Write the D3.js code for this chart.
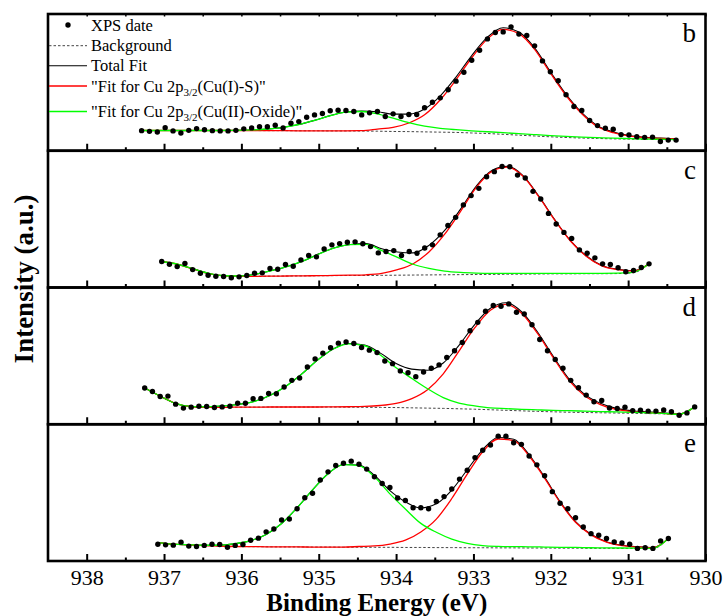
<!DOCTYPE html>
<html>
<head>
<meta charset="utf-8">
<script src="https://cdn.jsdelivr.net/npm/d3@7"></script>
<style>
  body { margin: 0; background: #fff; }
  svg { display: block; font-family: "Liberation Serif", "Times New Roman", serif; }
</style>
</head>
<body>
<div id="chart"></div>
<script>
// axis values
var energyTicks = [938, 937, 936, 935, 934, 933, 932, 931, 930];
var minorTicks  = [937.5, 936.5, 935.5, 934.5, 933.5, 932.5, 931.5, 930.5];
var panelNames  = ["b", "c", "d", "e"];

// intensities are in arbitrary units, 0-100 of the panel height
// panel b
var bRange = [937.29, 930.38];
var bPoints = [14.7,14.2,13.7,16.9,14.5,13.0,14.9,16.2,15.4,14.7,14.5,14.5,14.9,16.0,16.7,17.6,17.6,18.6,16.7,20.1,21.3,24.5,26.2,27.2,29.2,29.6,29.4,28.7,26.2,27.7,28.7,25.0,27.0,25.0,26.5,26.5,31.4,35.5,38.7,44.6,50.9,57.4,66.2,73.5,81.8,86.5,86.9,90.6,85.3,84.3,76.7,65.7,57.8,51.2,40.9,32.4,29.4,22.1,18.4,16.4,15.7,11.8,11.5,10.3,9.8,10.0,6.8,7.8,7.8];
var bBackground = [14.8,14.8,14.8,14.8,14.8,14.8,14.8,14.8,14.7,14.7,14.6,14.6,14.5,14.5,14.4,14.3,14.1,14.0,13.8,13.6,13.4,13.0,12.6,12.0,11.4,10.8,10.2,9.7,9.3,9.0,8.7,8.5,8.3,8.2,8.1];
var bTotalFit = [14.8,14.8,14.8,14.8,14.8,14.8,14.9,15.2,15.9,17.1,19.2,22.2,25.7,28.3,29.0,28.5,26.8,26.8,30.5,40.1,53.9,69.6,83.1,89.9,86.8,75.2,57.8,41.2,27.8,18.3,13.7,11.2,9.9,9.2,8.7];
var bCuS = [14.8,14.8,14.8,14.8,14.8,14.8,14.8,14.8,14.7,14.7,14.6,14.6,14.6,14.6,14.7,15.8,17.1,20.3,26.3,37.3,51.9,68.0,81.8,88.7,85.7,74.2,56.9,40.4,27.1,17.7,13.2,10.8,9.6,9.0,8.6];
var bOxide = [14.8,14.8,14.8,14.8,14.8,14.8,14.9,15.2,15.9,17.1,19.2,22.2,25.6,28.2,28.7,27.0,23.8,20.5,18.0,16.4,15.4,14.6,13.9,13.2,12.5,11.8,11.1,10.5,10.0,9.6,9.2,8.9,8.6,8.4,8.2];

// panel c
var cRange = [937.03, 930.73];
var cPoints = [19.0,17.0,15.3,17.5,13.1,10.4,9.0,8.2,8.0,7.1,7.8,8.8,10.4,10.7,13.9,13.4,16.8,15.5,20.2,23.4,22.4,28.2,31.2,32.1,33.1,33.4,32.0,29.9,25.3,26.3,27.0,23.4,26.3,25.0,28.9,31.2,38.5,45.3,51.3,60.4,67.2,72.5,81.0,84.7,88.5,88.3,82.2,80.1,70.3,64.7,54.2,46.4,40.3,35.9,27.5,25.0,21.7,17.3,16.8,14.4,11.5,12.4,14.6,17.3];
var cBackground = [19.0,17.0,13.6,10.2,8.5,8.2,8.2,8.3,8.4,8.5,8.6,8.7,8.8,8.8,8.9,9.0,9.1,9.2,9.3,9.4,9.5,9.6,9.7,9.8,9.9,10.0,10.0,10.1,10.1,10.2,10.8,17.3];
var cTotalFit = [19.0,17.0,13.6,10.3,8.6,8.4,9.8,12.4,15.4,19.4,24.6,29.1,31.5,32.1,28.4,26.0,25.3,30.8,41.7,57.1,74.0,85.6,88.6,81.7,66.6,49.6,34.3,23.2,16.1,13.3,12.3,17.3];
var cCuS = [19.0,17.0,13.6,10.2,8.5,8.2,8.2,8.3,8.4,8.5,8.7,8.8,9.0,9.3,10.3,13.0,17.4,26.0,39.0,55.5,73.0,84.9,88.0,81.2,66.2,49.3,34.0,22.9,15.8,13.0,12.0,17.3];
var cOxide = [19.0,17.0,13.6,10.3,8.6,8.4,9.8,12.4,15.4,19.4,24.5,29.0,31.3,31.6,27.0,22.0,17.0,14.0,12.0,11.0,10.5,10.3,10.3,10.3,10.3,10.3,10.3,10.4,10.4,10.5,11.1,17.3];

// panel d
var dRange = [937.25, 930.14];
var dPoints = [26.5,24.0,20.3,20.6,14.7,11.8,12.5,13.2,13.0,12.3,12.7,13.2,15.4,15.4,18.6,18.9,22.5,22.3,27.2,32.1,33.8,41.9,47.8,52.0,55.9,59.3,60.1,59.1,56.1,54.2,52.4,46.3,44.3,39.0,37.7,34.8,38.2,40.9,43.4,48.8,53.7,59.8,68.4,74.5,82.6,86.8,86.3,88.0,81.9,80.6,72.8,62.0,53.7,47.3,41.0,32.1,26.7,21.3,16.4,17.4,11.9,11.5,12.5,10.0,10.3,9.6,9.6,10.5,9.1,6.6,8.3,12.7];
var dBackground = [26.5,20.5,15.0,12.8,12.4,12.4,12.5,12.5,12.6,12.6,12.6,12.6,12.6,12.5,12.4,12.3,12.2,12.0,11.8,11.6,11.3,11.0,10.6,10.2,9.8,9.4,9.1,8.8,8.6,8.4,8.2,8.0,7.8,7.6,7.0,12.7];
var dTotalFit = [26.5,20.5,15.0,12.9,12.8,13.4,14.6,16.8,21.2,27.9,36.8,46.9,55.1,59.1,58.0,52.0,44.4,40.3,39.5,44.8,57.7,72.9,84.8,88.9,82.1,67.5,49.7,33.2,21.8,15.3,11.6,9.9,9.1,8.4,7.6,12.7];
var dCuS = [26.5,20.5,15.0,12.8,12.4,12.4,12.5,12.5,12.6,12.6,12.6,12.6,12.7,12.8,13.0,13.7,15.3,18.8,25.3,36.9,53.5,70.4,83.4,87.7,81.0,66.4,48.7,32.1,20.8,14.4,10.8,9.2,8.5,8.0,7.3,12.7];
var dOxide = [26.5,20.5,15.0,12.9,12.8,13.4,14.6,16.8,21.2,27.9,36.8,46.9,55.0,58.8,57.4,50.6,41.3,33.5,26.0,19.5,15.5,13.5,12.0,11.4,10.9,10.5,10.1,9.9,9.6,9.3,9.0,8.7,8.4,8.0,7.3,12.7];

// panel e
var eRange = [937.08, 930.48];
var ePoints = [12.3,11.8,11.6,13.8,10.9,10.6,11.4,12.3,12.1,10.1,11.4,12.1,15.2,16.7,21.3,23.4,30.0,30.7,38.2,46.2,49.5,59.2,65.2,69.8,71.5,73.0,70.8,67.2,61.6,56.7,53.8,46.1,44.2,38.9,38.9,38.2,43.5,47.1,52.7,59.9,66.4,75.6,81.0,84.8,91.3,91.3,86.5,85.3,76.8,70.3,62.3,50.7,42.2,38.2,31.6,24.9,20.0,18.8,16.4,13.9,13.2,12.3,9.2,9.7,9.2,14.7,16.4];
var eBackground = [13.5,12.3,11.8,11.3,10.9,10.6,10.5,10.4,10.3,10.3,10.2,10.2,10.1,10.1,10.0,10.0,9.9,9.9,9.8,9.8,9.7,9.7,9.6,9.6,9.5,9.5,9.4,9.4,9.3,9.3,9.2,9.2,9.1,16.4];
var eTotalFit = [13.5,12.3,11.85,11.5,11.5,12.7,14.9,19.4,27.4,38.9,52.0,63.8,70.6,70.2,62.6,51.5,43.3,38.8,41.8,51.9,66.7,81.5,90.3,89.0,77.7,61.3,43.4,28.8,19.5,14.1,11.5,10.4,9.8,16.4];
var eCuS = [13.5,12.3,11.8,11.3,10.9,10.6,10.5,10.4,10.3,10.3,10.2,10.2,10.2,10.6,11.0,12.4,15.2,21.2,30.6,45.7,63.5,79.9,89.2,88.1,76.8,60.6,42.8,28.3,19.1,13.8,11.2,10.2,9.6,16.4];
var eOxide = [13.5,12.3,11.85,11.5,11.5,12.7,14.9,19.4,27.4,38.9,52.0,63.8,70.5,69.7,61.6,49.1,38.0,27.5,21.0,16.0,12.9,11.3,10.7,10.5,10.4,10.2,10.0,9.9,9.7,9.6,9.5,9.4,9.3,16.4];

var panels = [
  {range: bRange, points: bPoints, background: bBackground, total: bTotalFit, cus: bCuS, oxide: bOxide},
  {range: cRange, points: cPoints, background: cBackground, total: cTotalFit, cus: cCuS, oxide: cOxide},
  {range: dRange, points: dPoints, background: dBackground, total: dTotalFit, cus: dCuS, oxide: dOxide},
  {range: eRange, points: ePoints, background: eBackground, total: eTotalFit, cus: eCuS, oxide: eOxide}
];

var legendItems = [
  {kind: "dot",    label: "XPS date"},
  {kind: "bg",     label: "Background"},
  {kind: "total",  label: "Total Fit"},
  {kind: "cus",    label: "Cu(I)-S"},
  {kind: "oxide",  label: "Cu(II)-Oxide"}
];

var styles = {
  bg:    {stroke: "#444", width: 1, dash: "2.5,2"},
  total: {stroke: "#000", width: 1.1, dash: null},
  cus:   {stroke: "#ff0000", width: 1.3, dash: null},
  oxide: {stroke: "#00ff00", width: 1.3, dash: null}
};

var W = 724, H = 616;
var plotLeft = 48, plotRight = 705.5, plotTop = 14, panelH = 136.75;

var x = d3.scaleLinear().domain([938.5, 930]).range([plotLeft, plotRight]);

var svg = d3.select("#chart").append("svg")
    .attr("width", W)
    .attr("height", H);

// even energy grid between the first and last measured point
function grid(range, n) {
  return d3.range(n).map(function(i) { return range[0] + (range[1] - range[0]) * i / (n - 1); });
}

panels.forEach(function(p, pi) {
  var y0 = plotTop + pi * panelH;
  var y = d3.scaleLinear().domain([0, 100]).range([y0 + panelH, y0]);
  var g = svg.append("g").attr("class", "panel");

  var fitE = grid(p.range, p.total.length);
  var line = d3.line()
      .x(function(d, i) { return x(fitE[i]); })
      .y(function(d) { return y(d); })
      .curve(d3.curveMonotoneX);

  [["total", p.total], ["bg", p.background], ["cus", p.cus], ["oxide", p.oxide]].forEach(function(s) {
    var st = styles[s[0]];
    g.append("path")
        .datum(s[1])
        .attr("d", line)
        .attr("fill", "none")
        .attr("stroke", st.stroke)
        .attr("stroke-width", st.width)
        .attr("stroke-dasharray", st.dash);
  });

  var ptE = grid(p.range, p.points.length);
  g.selectAll("circle")
      .data(p.points)
    .enter().append("circle")
      .attr("cx", function(d, i) { return x(ptE[i]); })
      .attr("cy", function(d) { return y(d); })
      .attr("r", 2.7)
      .attr("fill", "#000");

  // inward ticks on the panel bottom
  var bottom = y0 + panelH;
  var major = g.append("g")
      .attr("transform", "translate(0," + bottom + ")")
      .call(d3.axisBottom(x).tickValues(energyTicks).tickSizeInner(-7).tickSizeOuter(0)
        .tickPadding(8).tickFormat(pi == 3 ? d3.format("d") : ""));
  var minor = g.append("g")
      .attr("transform", "translate(0," + bottom + ")")
      .call(d3.axisBottom(x).tickValues(minorTicks).tickSizeInner(-3.5).tickSizeOuter(0).tickFormat(""));
  [major, minor].forEach(function(a) {
    a.select(".domain").remove();
    a.selectAll(".tick line").attr("stroke-width", 2);
  });
  major.selectAll("text")
      .attr("font-family", "Liberation Serif, Times New Roman, serif")
      .attr("font-size", 22)
      .attr("fill", "#000");

  if (pi == 0) {
    var topAx = g.append("g")
        .attr("transform", "translate(0," + y0 + ")")
        .call(d3.axisTop(x).tickValues(energyTicks.concat(minorTicks)).tickSizeInner(-2.5).tickSizeOuter(0).tickFormat(""));
    topAx.select(".domain").remove();
    topAx.selectAll(".tick line").attr("stroke-width", 1.5);
  }

  g.append("rect")
      .attr("x", plotLeft)
      .attr("y", y0)
      .attr("width", plotRight - plotLeft)
      .attr("height", panelH)
      .attr("fill", "none")
      .attr("stroke", "#000")
      .attr("stroke-width", 2.6);

  g.append("text")
      .attr("x", 696)
      .attr("y", y0 + 28)
      .attr("text-anchor", "end")
      .attr("font-size", 27)
      .text(panelNames[pi]);
});

// legend, top left of panel b
var rowY = [25, 45.7, 65.7, 86, 111.5];
var legend = svg.append("g").attr("class", "legend");
legendItems.forEach(function(it, i) {
  var ly = rowY[i];
  if (it.kind == "dot") {
    legend.append("circle").attr("cx", 68).attr("cy", ly).attr("r", 2.7).attr("fill", "#000");
  } else {
    var st = styles[it.kind];
    legend.append("line")
        .attr("x1", 49).attr("x2", 87)
        .attr("y1", ly).attr("y2", ly)
        .attr("stroke", st.stroke)
        .attr("stroke-width", st.width)
        .attr("stroke-dasharray", st.dash);
  }
  var t = legend.append("text")
      .attr("x", 91)
      .attr("y", ly + 5.5)
      .attr("font-size", 16.5);
  if (it.kind == "cus" || it.kind == "oxide") {
    t.append("tspan").text("\"Fit for Cu 2p");
    t.append("tspan").attr("font-size", 11).attr("dy", 4).text("3/2");
    t.append("tspan").attr("dy", -4).text("(" + it.label + ")\"");
  } else {
    t.text(it.label);
  }
});

// axis titles
svg.append("text")
    .attr("x", 376.8)
    .attr("y", 611)
    .attr("text-anchor", "middle")
    .attr("font-size", 25)
    .attr("font-weight", "bold")
    .text("Binding Energy (eV)");

svg.append("text")
    .attr("transform", "translate(33,279) rotate(-90)")
    .attr("text-anchor", "middle")
    .attr("font-size", 27)
    .attr("font-weight", "bold")
    .text("Intensity (a.u.)");
</script>
</body>
</html>
